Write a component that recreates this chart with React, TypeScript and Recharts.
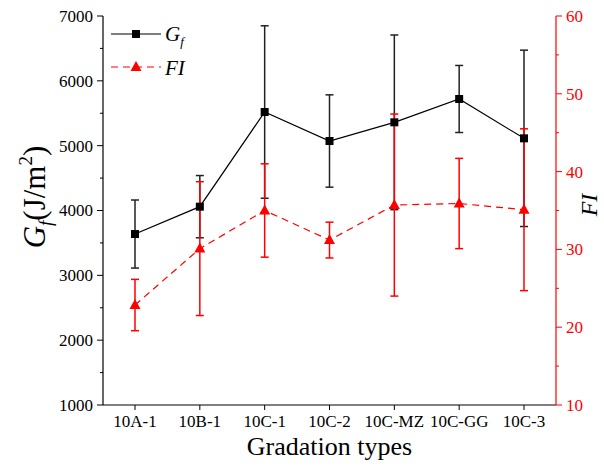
import { LineChart, Line, XAxis, YAxis, ErrorBar } from 'recharts'

const categories = ['10A-1', '10B-1', '10C-1', '10C-2', '10C-MZ', '10C-GG', '10C-3']
const gfValues = [3637, 4059, 5519, 5072, 5360, 5720, 5113]
const gfErrors = [525, 480, 1330, 712, 1347, 517, 1360]
const fiValues = [22.85, 30.1, 35.0, 31.2, 35.7, 35.9, 35.1]
const fiErrors = [3.3, 8.6, 6.0, 2.3, 11.7, 5.8, 10.4]
const gfTicks = [1000, 1500, 2000, 2500, 3000, 3500, 4000, 4500, 5000, 5500, 6000, 6500, 7000]
const fiTicks = [10, 15, 20, 25, 30, 35, 40, 45, 50, 55, 60]

const data = categories.map((name, i) => ({
  name,
  gf: gfValues[i],
  gfErr: gfErrors[i],
  fi: fiValues[i],
  fiErr: fiErrors[i],
}))

const FONT = '"Liberation Serif", "Times New Roman", serif'
const RED = '#ff0000'

const LeftTick = (props: any) => {
  const { x, y, payload } = props
  const major = payload.value % 1000 === 0
  return (
    <g>
      <line x1={x - (major ? 6 : 3)} y1={y} x2={x} y2={y} stroke="#000" strokeWidth={1} />
      {major && (
        <text x={x - 10} y={y} dy="0.35em" textAnchor="end" fontSize={17} fontFamily={FONT} fill="#000">
          {payload.value}
        </text>
      )}
    </g>
  )
}

const RightTick = (props: any) => {
  const { x, y, payload } = props
  const major = payload.value % 10 === 0
  return (
    <g>
      <line x1={x} y1={y} x2={x + (major ? 6 : 3)} y2={y} stroke={RED} strokeWidth={1} />
      {major && (
        <text x={x + 10} y={y} dy="0.35em" textAnchor="start" fontSize={17} fontFamily={FONT} fill={RED}>
          {payload.value}
        </text>
      )}
    </g>
  )
}

const SquareDot = (props: any) => {
  const { cx, cy, index } = props
  return <rect key={`sq-${index}`} x={cx - 4} y={cy - 4} width={8} height={8} fill="#000" />
}

const TriangleDot = (props: any) => {
  const { cx, cy, index } = props
  return (
    <polygon
      key={`tri-${index}`}
      points={`${cx},${cy - 6} ${cx - 5.5},${cy + 4} ${cx + 5.5},${cy + 4}`}
      fill={RED}
    />
  )
}

export default function App() {
  return (
    <div style={{ position: 'absolute', left: 0, top: 0, width: 604, height: 466, background: '#fff' }}>
      <LineChart width={604} height={466} data={data} margin={{ top: 16, right: 0, bottom: 0, left: 0 }}>
        <XAxis
          dataKey="name"
          height={61}
          stroke="#000"
          tickSize={5}
          tickMargin={5}
          padding={{ left: 32, right: 32 }}
          tick={{ fontSize: 17, fill: '#000', fontFamily: FONT }}
          interval={0}
          label={{
            value: 'Gradation types',
            position: 'insideBottom',
            offset: 11,
            fontSize: 26,
            fill: '#000',
            fontFamily: FONT,
          }}
        />
        <XAxis
          xAxisId="top"
          dataKey="name"
          orientation="top"
          height={0}
          padding={{ left: 32, right: 32 }}
          tick={false}
          tickLine={false}
          stroke="#000"
        />
        <YAxis
          yAxisId="left"
          width={103}
          domain={[1000, 7000]}
          ticks={gfTicks}
          interval={0}
          tickSize={0}
          tickMargin={0}
          tick={<LeftTick />}
          stroke="#000"
          strokeWidth={1.2}
        />
        <YAxis
          yAxisId="right"
          orientation="right"
          width={48}
          domain={[10, 60]}
          ticks={fiTicks}
          interval={0}
          tickSize={0}
          tickMargin={0}
          tick={<RightTick />}
          stroke={RED}
          strokeWidth={1.2}
        />
        <Line
          yAxisId="left"
          dataKey="gf"
          stroke="#000"
          strokeWidth={1.2}
          dot={SquareDot}
          activeDot={false}
          isAnimationActive={false}
        >
          <ErrorBar dataKey="gfErr" direction="y" width={4} stroke="#222" strokeWidth={1.5} />
        </Line>
        <Line
          yAxisId="right"
          dataKey="fi"
          stroke={RED}
          strokeWidth={1.2}
          strokeDasharray="7 5"
          dot={TriangleDot}
          activeDot={false}
          isAnimationActive={false}
        >
          <ErrorBar dataKey="fiErr" direction="y" width={4} stroke={RED} strokeWidth={1.5} />
        </Line>
      </LineChart>
      <svg
        width={604}
        height={466}
        style={{ position: 'absolute', left: 0, top: 0, pointerEvents: 'none' }}
        fontFamily={FONT}
      >
        <text transform="translate(45,197) rotate(-90)" textAnchor="middle" fontSize={31} fill="#000">
          <tspan fontStyle="italic">G</tspan>
          <tspan fontStyle="italic" fontSize={19} dy={7}>f</tspan>
          <tspan dy={-7}>(J/m</tspan>
          <tspan fontSize={19} dy={-13}>2</tspan>
          <tspan dy={13}>)</tspan>
        </text>
        <text transform="translate(597,205) rotate(-90)" textAnchor="middle" fontSize={24} fontStyle="italic" fill="#000">
          FI
        </text>
        <line x1={111} y1={34} x2={161} y2={34} stroke="#000" strokeWidth={1.2} />
        <rect x={132} y={30} width={8} height={8} fill="#000" />
        <text x={165} y={41} fontSize={21} fontStyle="italic" fill="#000">
          G<tspan fontSize={13} dy={5}>f</tspan>
        </text>
        <line x1={111} y1={67} x2={161} y2={67} stroke={RED} strokeWidth={1.2} strokeDasharray="7 5" />
        <polygon points="136,61 130.5,71 141.5,71" fill={RED} />
        <text x={165} y={75} fontSize={21} fontStyle="italic" fill="#000">
          FI
        </text>
      </svg>
    </div>
  )
}
